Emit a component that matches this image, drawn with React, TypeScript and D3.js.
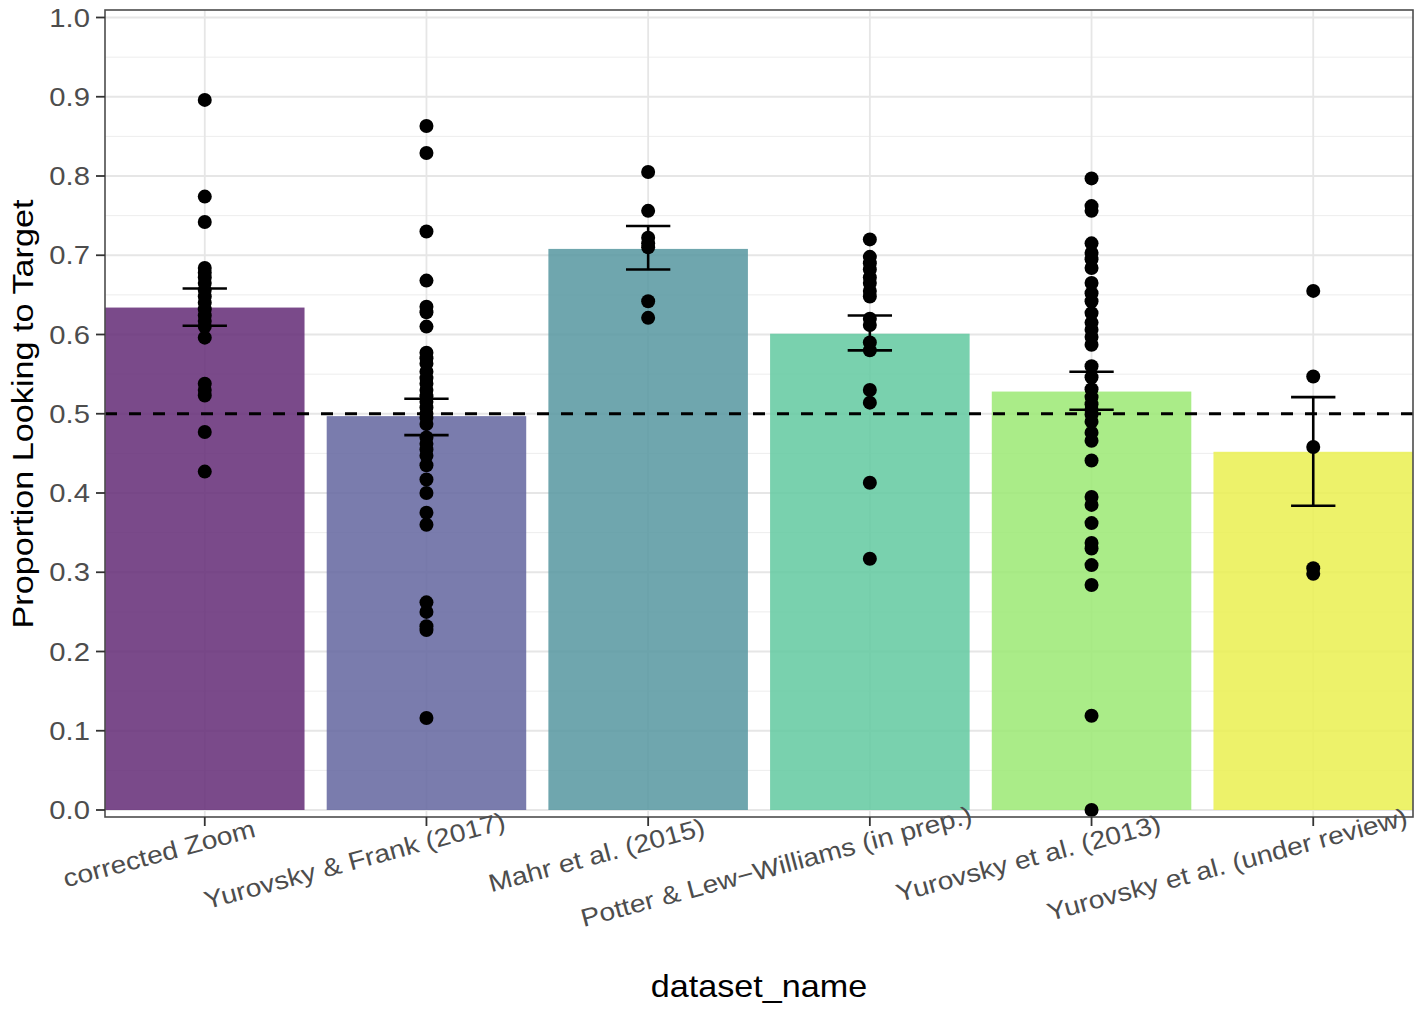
import { useEffect, useRef } from 'react'
import * as d3 from 'd3'

const DATASETS = [
  'corrected Zoom',
  'Yurovsky & Frank (2017)',
  'Mahr et al. (2015)',
  'Potter & Lew\u2212Williams (in prep.)',
  'Yurovsky et al. (2013)',
  'Yurovsky et al. (under review)',
]

// colours as they appear on white (bars are drawn semi-transparent over the grid)
const BAR_COLORS = ['#7a4a8a', '#7a7cad', '#6fa6ae', '#79d1ae', '#aaec88', '#edf26a']
const BAR_ALPHA = 0.85

const MEANS = [0.634, 0.497, 0.708, 0.601, 0.528, 0.452]
const CI_LOW = [0.611, 0.473, 0.682, 0.580, 0.505, 0.384]
const CI_HIGH = [0.658, 0.519, 0.737, 0.624, 0.553, 0.521]

const PTS_ZOOM = [0.896, 0.774, 0.742, 0.684, 0.678, 0.672, 0.665, 0.656, 0.648, 0.64, 0.632, 0.624, 0.617, 0.61, 0.596, 0.538, 0.53, 0.523, 0.477, 0.427]
const PTS_YF2017 = [0.863, 0.829, 0.730, 0.668, 0.635, 0.628, 0.610, 0.577, 0.570, 0.563, 0.553, 0.545, 0.538, 0.530, 0.522, 0.515, 0.508, 0.500, 0.495, 0.487, 0.470, 0.462, 0.455, 0.447, 0.435, 0.417, 0.400, 0.375, 0.360, 0.262, 0.250, 0.232, 0.227, 0.116]
const PTS_MAHR = [0.805, 0.756, 0.722, 0.715, 0.710, 0.642, 0.621]
const PTS_POTTER = [0.720, 0.698, 0.690, 0.682, 0.672, 0.665, 0.655, 0.648, 0.620, 0.612, 0.590, 0.580, 0.530, 0.514, 0.413, 0.317]
const PTS_Y2013 = [0.797, 0.762, 0.756, 0.715, 0.703, 0.695, 0.684, 0.665, 0.652, 0.642, 0.627, 0.615, 0.606, 0.597, 0.587, 0.560, 0.546, 0.531, 0.521, 0.512, 0.505, 0.499, 0.490, 0.476, 0.466, 0.441, 0.395, 0.385, 0.362, 0.337, 0.330, 0.309, 0.284, 0.119, 0.0]
const PTS_REVIEW = [0.655, 0.547, 0.458, 0.305, 0.298]

const POINTS = [PTS_ZOOM, PTS_YF2017, PTS_MAHR, PTS_POTTER, PTS_Y2013, PTS_REVIEW]

const Y_TICKS = [0, 0.1, 0.2, 0.3, 0.4, 0.5, 0.6, 0.7, 0.8, 0.9, 1.0]
const Y_MINOR = [0.05, 0.15, 0.25, 0.35, 0.45, 0.55, 0.65, 0.75, 0.85, 0.95]

const FONT = '"Liberation Sans", Arial, Helvetica, sans-serif'

// colour that gives `hex` when painted at `a` over white
function unblend(hex: string, a: number) {
  const c = d3.rgb(hex)
  const f = (v: number) => Math.max(0, Math.min(255, (v - 255 * (1 - a)) / a))
  return d3.rgb(f(c.r), f(c.g), f(c.b)).formatHex()
}

export default function App() {
  const svgRef = useRef<SVGSVGElement>(null)

  useEffect(() => {
    if (!svgRef.current) return
    const width = 1423
    const height = 1009
    const svg = d3.select(svgRef.current)
    svg.selectAll('*').remove()
    svg.attr('width', width).attr('height', height)

    // panel box
    const pl = 105, pr = 1413, pt = 10, pb = 817

    const x = d3.scaleBand<string>()
      .domain(DATASETS)
      .range([pl, pr])
      .paddingInner(0.1)
      .paddingOuter(0)

    const y = d3.scaleLinear().domain([0, 1]).range([810, 17.5])

    const color = d3.scaleOrdinal<string, string>()
      .domain(DATASETS)
      .range(BAR_COLORS.map(c => unblend(c, BAR_ALPHA)))

    svg.append('rect')
      .attr('x', 0).attr('y', 0).attr('width', width).attr('height', height)
      .attr('fill', '#fff')

    // grid
    const grid = svg.append('g')
    grid.selectAll('line.minor')
      .data(Y_MINOR)
      .join('line')
      .attr('x1', pl).attr('x2', pr)
      .attr('y1', d => y(d)).attr('y2', d => y(d))
      .attr('stroke', '#ebebeb').attr('stroke-width', 0.9)
    grid.selectAll('line.major')
      .data(Y_TICKS)
      .join('line')
      .attr('x1', pl).attr('x2', pr)
      .attr('y1', d => y(d)).attr('y2', d => y(d))
      .attr('stroke', '#e6e6e6').attr('stroke-width', 1.8)
    grid.selectAll('line.vmajor')
      .data(DATASETS)
      .join('line')
      .attr('x1', d => x(d)! + x.bandwidth() / 2)
      .attr('x2', d => x(d)! + x.bandwidth() / 2)
      .attr('y1', pt).attr('y2', pb)
      .attr('stroke', '#e6e6e6').attr('stroke-width', 1.8)

    // bars
    svg.append('g')
      .selectAll('rect')
      .data(DATASETS)
      .join('rect')
      .attr('x', d => x(d)!)
      .attr('width', x.bandwidth())
      .attr('y', (_, i) => y(MEANS[i]))
      .attr('height', (_, i) => y(0) - y(MEANS[i]))
      .attr('fill', d => color(d))
      .attr('fill-opacity', BAR_ALPHA)

    // points
    const pg = svg.append('g')
    POINTS.forEach((pts, i) => {
      const cx = x(DATASETS[i])! + x.bandwidth() / 2
      pg.selectAll(null)
        .data(pts)
        .join('circle')
        .attr('cx', cx)
        .attr('cy', d => y(d))
        .attr('r', 7)
        .attr('fill', '#000')
    })

    // error bars
    const eg = svg.append('g').attr('stroke', '#000').attr('stroke-width', 2.6).attr('fill', 'none')
    const whisker = x.step() * 0.1
    DATASETS.forEach((d, i) => {
      const cx = x(d)! + x.bandwidth() / 2
      eg.append('line').attr('x1', cx).attr('x2', cx).attr('y1', y(CI_LOW[i])).attr('y2', y(CI_HIGH[i]))
      eg.append('line').attr('x1', cx - whisker).attr('x2', cx + whisker).attr('y1', y(CI_LOW[i])).attr('y2', y(CI_LOW[i]))
      eg.append('line').attr('x1', cx - whisker).attr('x2', cx + whisker).attr('y1', y(CI_HIGH[i])).attr('y2', y(CI_HIGH[i]))
    })

    // chance line
    svg.append('line')
      .attr('x1', pl).attr('x2', pr)
      .attr('y1', y(0.5)).attr('y2', y(0.5))
      .attr('stroke', '#000').attr('stroke-width', 2.8)
      .attr('stroke-dasharray', '12 12')

    // panel border
    svg.append('rect')
      .attr('x', pl).attr('y', pt).attr('width', pr - pl).attr('height', pb - pt)
      .attr('fill', 'none').attr('stroke', '#4d4d4d').attr('stroke-width', 1.6)

    // y axis ticks + labels
    const ya = svg.append('g')
    ya.selectAll('line')
      .data(Y_TICKS)
      .join('line')
      .attr('x1', pl - 9).attr('x2', pl)
      .attr('y1', d => y(d)).attr('y2', d => y(d))
      .attr('stroke', '#333').attr('stroke-width', 1.8)
    ya.selectAll('text')
      .data(Y_TICKS)
      .join('text')
      .attr('transform', d => `translate(90,${y(d)}) scale(1.17,1)`)
      .attr('text-anchor', 'end')
      .attr('dy', '0.36em')
      .attr('font-family', FONT)
      .attr('font-size', 25)
      .attr('fill', '#4d4d4d')
      .text(d => d3.format('.1f')(d))

    // x axis ticks + labels
    const xa = svg.append('g')
    xa.selectAll('line')
      .data(DATASETS)
      .join('line')
      .attr('x1', d => x(d)! + x.bandwidth() / 2)
      .attr('x2', d => x(d)! + x.bandwidth() / 2)
      .attr('y1', pb).attr('y2', pb + 9)
      .attr('stroke', '#333').attr('stroke-width', 1.8)
    xa.selectAll('text')
      .data(DATASETS)
      .join('text')
      .attr('transform', d => `translate(${x(d)! + x.bandwidth() / 2},841) rotate(-15) scale(1.13,1)`)
      .attr('dy', '0.36em')
      .attr('font-family', FONT)
      .attr('font-size', 25)
      .attr('fill', '#4d4d4d')
      .text(d => d)
      .each(function () {
        const el = this as SVGTextElement
        const len = el.getComputedTextLength()
        d3.select(el).attr('x', -0.74 * len)
      })

    // axis titles
    svg.append('text')
      .attr('transform', `translate(759,997) scale(1.12,1)`)
      .attr('text-anchor', 'middle')
      .attr('font-family', FONT)
      .attr('font-size', 30.5)
      .attr('fill', '#000')
      .text('dataset_name')

    svg.append('text')
      .attr('transform', `translate(33,414) rotate(-90) scale(1.14,1)`)
      .attr('text-anchor', 'middle')
      .attr('font-family', FONT)
      .attr('font-size', 30)
      .attr('fill', '#000')
      .text('Proportion Looking to Target')
  }, [])

  return (
    <div style={{ position: 'fixed', left: 0, top: 0, width: 1423, height: 1009, background: '#fff' }}>
      <svg ref={svgRef} style={{ display: 'block' }} />
    </div>
  )
}
